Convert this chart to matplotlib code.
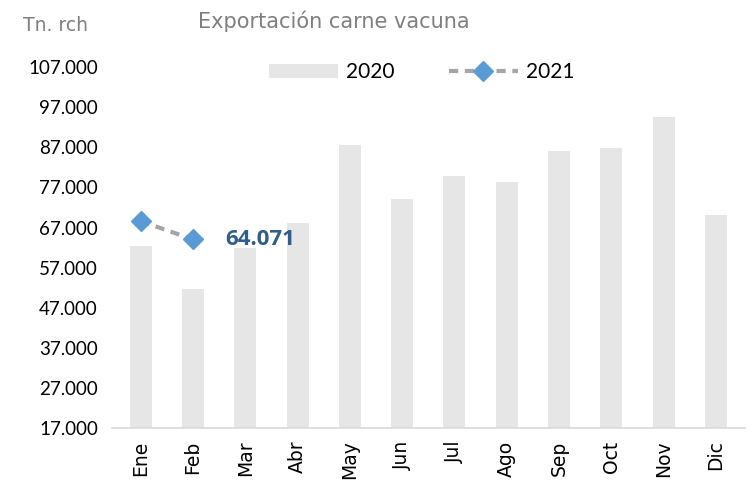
import numpy as np
import matplotlib
matplotlib.use('Agg')
from matplotlib import pyplot as plt
from matplotlib.ticker import FuncFormatter

# data
months = ['Ene', 'Feb', 'Mar', 'Abr', 'May', 'Jun', 'Jul', 'Ago', 'Sep', 'Oct', 'Nov', 'Dic']
exp_2020 = [62400, 51700, 62000, 68100, 87600, 74100, 79800, 78300, 86100, 86800, 94600, 70100]
exp_2021 = [68600, 64071]
yticks = np.arange(17000, 107001, 10000)

bar_color = '#E6E6E6'
mk_color = '#5B9BD5'
line_color = '#A5A5A5'
lab_color = '#2E5D8E'

fig = plt.figure(figsize=(7.56, 4.87), dpi=100)
ax = fig.add_axes([0.148, 0.121, 0.837, 0.741])

x = np.arange(len(months))
bars = ax.bar(x, exp_2020, width=0.42, color=bar_color, label='2020', zorder=1)
x21 = x[:len(exp_2021)]
line, = ax.plot(x21, exp_2021, color=line_color, linestyle=(0, (2.2, 1.6)), linewidth=3,
                marker='D', markersize=10, markerfacecolor=mk_color, markeredgecolor=mk_color,
                label='2021', zorder=3)

# label on the last 2021 point
ax.annotate(f'{exp_2021[-1]:,}'.replace(',', '.'), (x21[-1], exp_2021[-1]),
            xytext=(23, 0), textcoords='offset points', va='center', ha='left',
            fontsize=16, fontweight='bold', color=lab_color, family='Open Sans', zorder=4)

ax.set_xlim(-0.55, len(months) - 0.45)
ax.set_ylim(17000, 107000)
ax.set_yticks(yticks)
ax.yaxis.set_major_formatter(FuncFormatter(lambda v, p: f'{int(v):,}'.replace(',', '.')))
ax.set_xticks(x)
ax.set_xticklabels(months)
for lab in ax.get_xticklabels():
    lab.set_rotation(90)
    lab.set_fontsize(13.5)
    lab.set_family('DejaVu Sans')
for lab in ax.get_yticklabels():
    lab.set_fontsize(13.5)
    lab.set_family('Lato')
ax.tick_params(axis='y', length=0, pad=10)
ax.tick_params(axis='x', length=0, pad=9)

for s in ['top', 'right', 'left']:
    ax.spines[s].set_visible(False)
ax.spines['bottom'].set_color('#D9D9D9')
ax.spines['bottom'].set_linewidth(1.2)

leg = ax.legend([bars, line], ['2020', '2021'], loc='upper center', bbox_to_anchor=(0.49, 1.065),
                ncol=2, frameon=False, handlelength=3.3, columnspacing=2.6, handletextpad=0.4,
                prop={'family': 'Lato', 'size': 15})

fig.text(0.262, 0.957, 'Exportación carne vacuna', fontsize=15, color='#7F7F7F',
         family='DejaVu Sans', va='center', ha='left')
fig.text(0.03, 0.947, 'Tn. rch', fontsize=13.5, color='#7F7F7F',
         family='DejaVu Sans', va='center', ha='left')

fig.savefig('out.png', dpi=100)
